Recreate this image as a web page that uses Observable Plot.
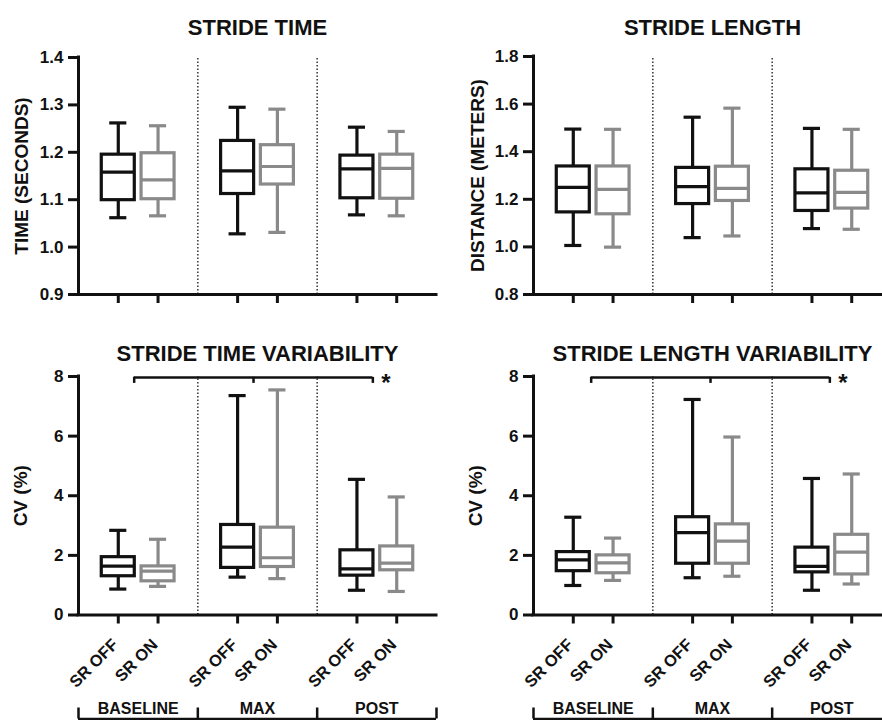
<!DOCTYPE html>
<html><head><meta charset="utf-8">
<script src="https://cdn.jsdelivr.net/npm/d3@7"></script>
<script src="https://cdn.jsdelivr.net/npm/@observablehq/plot@0.6"></script>
<style>
html,body{margin:0;padding:0;background:#fff;}
#root{position:relative;width:882px;height:720px;overflow:hidden;font-family:"Liberation Sans",Arial,sans-serif;color:#111;}
.panel{position:absolute;}
</style></head><body><div id="root"></div>
<script>
// ---- data ----
const groups = ["BASELINE", "MAX", "POST"];
const conditions = ["SR OFF", "SR ON"];
// rows: [min, Q1, median, Q3, max]; order: BASELINE OFF, BASELINE ON, MAX OFF, MAX ON, POST OFF, POST ON
const strideTime = [
  [1.062, 1.099, 1.158, 1.195, 1.262],
  [1.066, 1.101, 1.142, 1.198, 1.256],
  [1.028, 1.112, 1.161, 1.224, 1.295],
  [1.031, 1.132, 1.170, 1.215, 1.291],
  [1.068, 1.103, 1.165, 1.193, 1.253],
  [1.066, 1.102, 1.166, 1.195, 1.244]
];
const strideLength = [
  [1.006, 1.145, 1.250, 1.338, 1.495],
  [0.999, 1.137, 1.242, 1.338, 1.494],
  [1.039, 1.180, 1.253, 1.332, 1.545],
  [1.046, 1.193, 1.246, 1.337, 1.583],
  [1.077, 1.151, 1.227, 1.326, 1.498],
  [1.074, 1.161, 1.229, 1.320, 1.494]
];
const strideTimeCV = [
  [0.87, 1.30, 1.64, 1.94, 2.84],
  [0.96, 1.13, 1.47, 1.63, 2.54],
  [1.27, 1.58, 2.28, 3.02, 7.36],
  [1.22, 1.61, 1.92, 2.93, 7.55],
  [0.83, 1.32, 1.55, 2.17, 4.55],
  [0.79, 1.50, 1.74, 2.30, 3.96]
];
const strideLengthCV = [
  [0.99, 1.47, 1.85, 2.11, 3.28],
  [1.16, 1.40, 1.75, 2.00, 2.58],
  [1.25, 1.72, 2.76, 3.28, 7.23],
  [1.30, 1.72, 2.48, 3.04, 5.97],
  [0.83, 1.43, 1.63, 2.26, 4.58],
  [1.04, 1.36, 2.11, 2.69, 4.73]
];
const timeTicks = [0.9, 1.0, 1.1, 1.2, 1.3, 1.4];
const lengthTicks = [0.8, 1.0, 1.2, 1.4, 1.6, 1.8];
const cvTicks = [0, 2, 4, 6, 8];
const titles = ["STRIDE TIME", "STRIDE LENGTH", "STRIDE TIME VARIABILITY", "STRIDE LENGTH VARIABILITY"];
const yLabels = ["TIME (SECONDS)", "DISTANCE (METERS)", "CV (%)", "CV (%)"];
const sigLevel = 7.97;      // significance bracket height (CV %)
const sigMark = "*";

// ---- styling ----
const seriesColors = ["#111111", "#8a8a8a"];
const BOX = 0.415, CAP = 0.215, SW = 3.2;

function rowsOf(stats) {
  return stats.map((s, i) => ({
    pos: Math.floor(i / 2) * 3 + (i % 2) + 1,
    group: groups[Math.floor(i / 2)],
    cond: conditions[i % 2],
    color: seriesColors[i % 2],
    min: s[0], q1: s[1], med: s[2], q3: s[3], max: s[4]
  }));
}

function panel(o) {
  const rows = rowsOf(o.stats);
  const [y0, y1] = o.yDomain;
  const separators = [3, 6];
  const marks = [
    Plot.ruleX(separators, {x: d => d, y1: y0, y2: y1, stroke: "#333", strokeWidth: 1.5, strokeDasharray: "1.5,2"}),
    Plot.ruleX(rows, {x: "pos", y1: "min", y2: "q1", stroke: "color", strokeWidth: SW}),
    Plot.ruleX(rows, {x: "pos", y1: "q3", y2: "max", stroke: "color", strokeWidth: SW}),
    Plot.ruleY(rows, {y: "min", x1: d => d.pos - CAP, x2: d => d.pos + CAP, stroke: "color", strokeWidth: SW}),
    Plot.ruleY(rows, {y: "max", x1: d => d.pos - CAP, x2: d => d.pos + CAP, stroke: "color", strokeWidth: SW}),
    Plot.rect(rows, {x1: d => d.pos - BOX, x2: d => d.pos + BOX, y1: "q1", y2: "q3", stroke: "color", strokeWidth: SW, fill: "none"}),
    Plot.ruleY(rows, {y: "med", x1: d => d.pos - BOX, x2: d => d.pos + BOX, stroke: "color", strokeWidth: SW}),
    Plot.ruleX([0], {y1: y0, y2: y1, stroke: "#111", strokeWidth: 3, strokeLinecap: "square"}),
    Plot.ruleY([y0], {x1: 0, x2: 9, stroke: "#111", strokeWidth: 3, strokeLinecap: "square"}),
    Plot.axisY({ticks: o.yTicks, tickFormat: o.fmt, tickSize: 10, tickPadding: 5, strokeWidth: 3, stroke: "#111", fontSize: 17, label: null}),
    Plot.axisX({ticks: rows.map(r => r.pos), tickFormat: () => "", tickSize: 9, strokeWidth: 3, stroke: "#111", label: null}),
    Plot.text([o.title], {text: d => d, frameAnchor: "top", dy: o.titleDy, fontSize: 22}),
    Plot.text([o.yLabel], {text: d => d, frameAnchor: "left", textAnchor: "middle", dx: o.yLabelDx, rotate: -90, fontSize: 19})
  ];
  if (o.bottom) {
    marks.push(
      Plot.text(rows, {x: "pos", y: y0, text: "cond", rotate: -45, textAnchor: "end", dx: -3, dy: 27, fontSize: 16.5}),
      Plot.text(groups, {x: (d, i) => i * 3 + 1.5, y: y0, text: d => d, dy: 94, fontSize: 16}),
      Plot.ruleY([y0], {x1: 0, x2: 9, dy: 104, strokeWidth: 2.5, stroke: "#111"}),
      Plot.ruleX([0, 3, 6, 9], {x: d => d, y1: y0, y2: y0, insetTop: -11, dy: 104, strokeWidth: 2.5, stroke: "#111"})
    );
  }
  if (o.sigX) {
    marks.push(
      Plot.ruleY([sigLevel], {x1: o.sigX[0], x2: o.sigX[2], strokeWidth: 2.5, stroke: "#111"}),
      Plot.ruleX(o.sigX, {x: d => d, y1: sigLevel, y2: sigLevel, insetBottom: -6, strokeWidth: 2.5, stroke: "#111"}),
      Plot.text([sigMark], {x: o.sigX[2], y: sigLevel, text: d => d, dx: 13, dy: 6, fontSize: 24})
    );
  }
  const svg = Plot.plot({
    width: o.width, height: o.height,
    marginLeft: o.mL, marginRight: o.mR, marginTop: o.mT, marginBottom: o.mB,
    x: {domain: [0, 9], label: null},
    y: {domain: o.yDomain, label: null},
    color: {type: "identity"},
    style: {fontFamily: "'Liberation Sans', Arial, sans-serif", fontWeight: "bold", background: "transparent", overflow: "visible", maxWidth: "none", color: "#111"},
    marks
  });
  const div = document.createElement("div");
  div.className = "panel";
  div.style.left = o.left + "px";
  div.style.top = o.top + "px";
  div.appendChild(svg);
  document.getElementById("root").appendChild(div);
}

panel({stats: strideTime, title: titles[0], yLabel: yLabels[0], yDomain: [0.9, 1.4], yTicks: timeTicks, fmt: d3.format(".1f"),
  left: 0, top: 0, width: 441, height: 310, mL: 78, mR: 5, mT: 57, mB: 16, titleDy: -38.5, yLabelDx: -57});
panel({stats: strideLength, title: titles[1], yLabel: yLabels[1], yDomain: [0.8, 1.8], yTicks: lengthTicks, fmt: d3.format(".1f"),
  left: 441, top: 0, width: 450, height: 310, mL: 92, mR: 0, mT: 56, mB: 16, titleDy: -37.5, yLabelDx: -56});
panel({stats: strideTimeCV, title: titles[2], yLabel: yLabels[2], yDomain: [0, 8], yTicks: cvTicks, fmt: d3.format("d"),
  left: 0, top: 300, width: 441, height: 420, mL: 78, mR: 5, mT: 76, mB: 105.5, titleDy: -31, yLabelDx: -58,
  bottom: true, sigX: [1.4, 4.4, 7.4]});
panel({stats: strideLengthCV, title: titles[3], yLabel: yLabels[3], yDomain: [0, 8], yTicks: cvTicks, fmt: d3.format("d"),
  left: 441, top: 300, width: 450, height: 420, mL: 92, mR: 0, mT: 76, mB: 105.5, titleDy: -31, yLabelDx: -58,
  bottom: true, sigX: [1.45, 4.45, 7.45]});
</script>
</body></html>
